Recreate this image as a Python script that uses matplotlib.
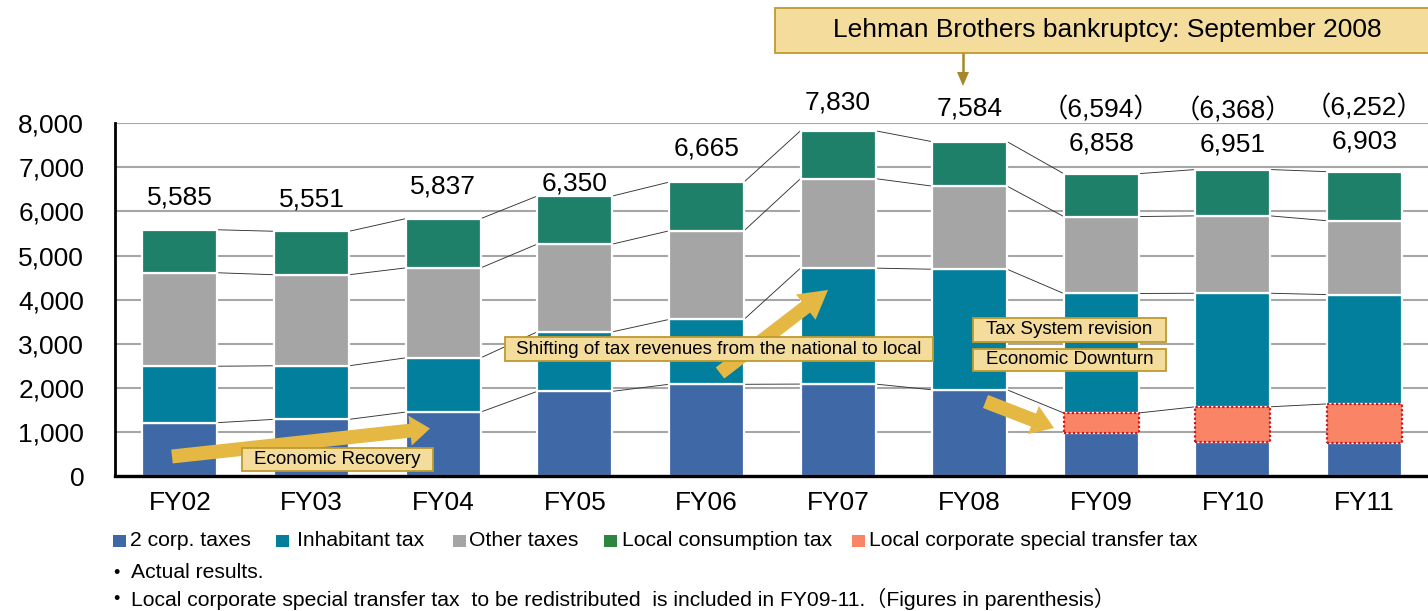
import matplotlib
matplotlib.use("Agg")
import matplotlib.pyplot as plt
from matplotlib.patches import Rectangle, FancyArrow
import numpy as np

plt.rcParams['font.family'] = ['Liberation Sans', 'Noto Sans CJK JP', 'DejaVu Sans']

# ---------------- data ----------------
years = ['FY02', 'FY03', 'FY04', 'FY05', 'FY06', 'FY07', 'FY08', 'FY09', 'FY10', 'FY11']
corp2 = [1210, 1285, 1450, 1920, 2080, 2085, 1955, 985, 780, 755]
special = [0, 0, 0, 0, 0, 0, 0, 445, 790, 880]
inhabitant = [1280, 1215, 1230, 1350, 1470, 2630, 2735, 2710, 2575, 2480]
other = [2120, 2065, 2040, 1990, 2010, 2030, 1885, 1745, 1755, 1675]
local_cons = [975, 986, 1117, 1090, 1105, 1085, 1009, 973, 1051, 1113]
totals = [5585, 5551, 5837, 6350, 6665, 7830, 7584, 6858, 6951, 6903]
paren_totals = [None, None, None, None, None, None, None, 6594, 6368, 6252]
yticks = [0, 1000, 2000, 3000, 4000, 5000, 6000, 7000, 8000]
legend_labels = ['2 corp. taxes', 'Inhabitant tax', 'Other taxes',
                 'Local consumption tax', 'Local corporate special transfer tax']
notes = ['Actual results.',
         'Local corporate special transfer tax  to be redistributed  is included in FY09-11.\uff08Figures in parenthesis\uff09']

# ---------------- style ----------------
C_BLUE = '#3F68A6'
C_TEAL = '#017F9C'
C_GREY = '#A5A5A5'
C_GREEN = '#1F806A'
C_GREEN_LEG = '#2E8540'
C_SALMON = '#F98466'
C_RED = '#D4151B'
GOLD = '#E4B843'
BOX_FILL = '#F3DC9C'
BOX_EDGE = '#C09A2E'
DARK_GOLD = '#A8862A'

W, H = 1428, 611
fig = plt.figure(figsize=(W / 100, H / 100), dpi=100)

ax_left, ax_bottom_px, ax_top_px = 114.7, 476.0, 123.3
ax = fig.add_axes([ax_left / W, (H - ax_bottom_px) / H, (W - ax_left) / W,
                   (ax_bottom_px - ax_top_px) / H])

x = np.arange(len(years))
bw = 0.57
corp2_a = np.array(corp2, float)
spec_a = np.array(special, float)
inh_a = np.array(inhabitant, float)
oth_a = np.array(other, float)
lc_a = np.array(local_cons, float)

b1 = corp2_a + spec_a
b2 = b1 + inh_a
b3 = b2 + oth_a
b4 = b3 + lc_a

edge_kw = dict(edgecolor='white', linewidth=1.6, zorder=3)
ax.bar(x, corp2_a, bw, color=C_BLUE, **edge_kw)
ax.bar(x, inh_a, bw, bottom=b1, color=C_TEAL, **edge_kw)
ax.bar(x, oth_a, bw, bottom=b2, color=C_GREY, **edge_kw)
ax.bar(x, lc_a, bw, bottom=b3, color=C_GREEN, **edge_kw)
mask = spec_a > 0
ax.bar(x[mask], spec_a[mask], bw, bottom=corp2_a[mask], color=C_SALMON,
       edgecolor=C_RED, linewidth=1.6, linestyle=(0, (1, 1)), zorder=4)

# connector lines between bars
for level in (b1, b2, b3, b4):
    for i in range(len(x) - 1):
        ax.plot([x[i] + bw / 2, x[i + 1] - bw / 2], [level[i], level[i + 1]],
                color='#333333', linewidth=0.65, zorder=2.5, solid_capstyle='butt')

# total labels (pixel offsets above bar top)
label_dy = [32, 32, 32, 13, 34, 28, 33, 30, 25, 30]
paren_dy = [None] * 7 + [64, 59, 64]
for i in range(len(x)):
    ax.annotate(f'{totals[i]:,}', (x[i], totals[i]), xytext=(0, label_dy[i] * 0.72),
                textcoords='offset points', ha='center', va='center',
                fontsize=19, color='black', zorder=6)
    if paren_totals[i] is not None:
        ax.annotate('\uff08' + f'{paren_totals[i]:,}' + '\uff09', (x[i], totals[i]),
                    xytext=(0, paren_dy[i] * 0.72), textcoords='offset points',
                    ha='center', va='center', fontsize=19, color='black', zorder=6)

ax.set_xlim(-0.496, 9.483)
ax.set_ylim(0, 8000)
ax.set_yticks(yticks)
ax.set_yticklabels([f'{v:,}' for v in yticks], fontsize=19)
ax.set_xticks(x)
ax.set_xticklabels(years, fontsize=19)
ax.tick_params(axis='y', length=0, pad=22)
ax.tick_params(axis='x', length=0, pad=10.5)
ax.yaxis.grid(True, color='#A6A6A6', linewidth=1.5, zorder=0)
ax.set_axisbelow(True)
for s in ('top', 'right'):
    ax.spines[s].set_visible(False)
ax.spines['left'].set_linewidth(2.0)
ax.spines['bottom'].set_linewidth(2.4)
ax.spines['left'].set_zorder(5)
ax.spines['bottom'].set_zorder(5)

# ---------------- overlay in pixel coordinates ----------------
ov = fig.add_axes([0, 0, 1, 1], zorder=10)
ov.set_xlim(0, W)
ov.set_ylim(H, 0)
ov.axis('off')
ov.patch.set_alpha(0)


def arrow(x0, y0, x1, y1, width, hw, hl, color=GOLD):
    ov.add_patch(FancyArrow(x0, y0, x1 - x0, y1 - y0, width=width, head_width=hw,
                            head_length=hl, length_includes_head=True,
                            color=color, linewidth=0, zorder=2))


def box(x0, y0, x1, y1, text, fs):
    ov.add_patch(Rectangle((x0, y0), x1 - x0, y1 - y0, facecolor=BOX_FILL,
                           edgecolor=BOX_EDGE, linewidth=1.3, zorder=3))
    ov.text((x0 + x1) / 2, (y0 + y1) / 2, text, ha='center', va='center',
            fontsize=fs, color='black', zorder=4)


arrow(172, 456.5, 430, 428.5, 14, 30, 20)
arrow(720, 373, 828, 290, 14, 32, 28)
arrow(985.5, 401.5, 1054, 428, 14, 30, 22)

box(242, 448, 433, 471, 'Economic Recovery', 13.5)
box(505, 337, 933, 361, 'Shifting of tax revenues from the national to local', 13.5)
box(973, 318, 1166, 342, 'Tax System revision', 13.5)
box(973, 349, 1166, 371, 'Economic Downturn', 13.5)

# Lehman box + arrow
box(775, 8, 1440, 53, 'Lehman Brothers bankruptcy: September 2008', 19)
ov.plot([963, 963], [53, 74], color=DARK_GOLD, linewidth=1.8, zorder=2)
ov.add_patch(plt.Polygon([[957, 72], [969, 72], [963, 86]], closed=True,
                         facecolor=DARK_GOLD, edgecolor='none', zorder=2))

# Legend
leg_colors = [C_BLUE, C_TEAL, C_GREY, C_GREEN_LEG, C_SALMON]
sq_x = [113, 276, 453, 604, 852]
tx_x = [130, 297, 469, 622, 869]
for c, sx, tx, lab in zip(leg_colors, sq_x, tx_x, legend_labels):
    ov.add_patch(Rectangle((sx, 534.5), 12.5, 12.5, facecolor=c, edgecolor='none'))
    ov.text(tx, 541, lab, ha='left', va='center', fontsize=15.2, color='black')

# Notes
for yy, t in zip([573, 599], notes):
    ov.text(113, yy, '\u2022', ha='left', va='center', fontsize=13, color='black')
    ov.text(131, yy, t, ha='left', va='center', fontsize=15.2, color='black')

fig.savefig('out.png', dpi=100)
